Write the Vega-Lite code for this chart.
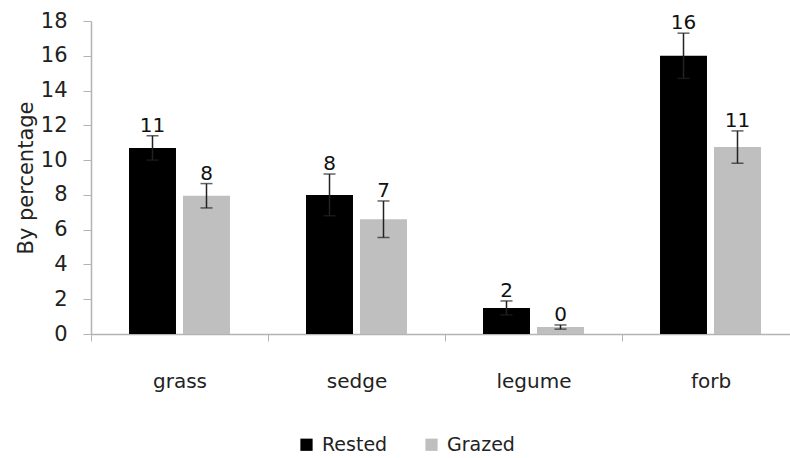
{
  "$schema": "https://vega.github.io/schema/vega-lite/v6.json",
  "autosize": "none",
  "width": 708,
  "height": 313,
  "padding": {"left": 91, "top": 21, "right": 0, "bottom": 124},
  "background": "white",
  "config": {
    "font": "DejaVu Sans",
    "view": {"stroke": null},
    "axis": {"grid": false, "domainColor": "#b3b3b3", "tickColor": "#b3b3b3", "labelColor": "#222", "titleColor": "#222", "labelFont": "DejaVu Sans", "titleFont": "DejaVu Sans", "titleFontWeight": "normal", "labelOverlap": false},
    "axisY": {"values": [0, 2, 4, 6, 8, 10, 12, 14, 16, 18], "titleFontSize": 21, "titlePadding": 4, "labelFontSize": 21, "tickSize": 8, "labelPadding": 16, "domainWidth": 1.5}
  },
  "data": {
    "values": [
      {"type": "grass", "group": "Rested", "value": 10.7, "err": 0.7, "label": "11"},
      {"type": "grass", "group": "Grazed", "value": 7.95, "err": 0.7, "label": "8"},
      {"type": "sedge", "group": "Rested", "value": 8.0, "err": 1.2, "label": "8"},
      {"type": "sedge", "group": "Grazed", "value": 6.6, "err": 1.05, "label": "7"},
      {"type": "legume", "group": "Rested", "value": 1.5, "err": 0.4, "label": "2"},
      {"type": "legume", "group": "Grazed", "value": 0.4, "err": 0.12, "label": "0"},
      {"type": "forb", "group": "Rested", "value": 16.0, "err": 1.3, "label": "16"},
      {"type": "forb", "group": "Grazed", "value": 10.75, "err": 0.93, "label": "11"}
    ]
  },
  "transform": [
    {"calculate": "datum.value + datum.err", "as": "hi"},
    {"calculate": "datum.value - datum.err", "as": "lo"}
  ],
  "encoding": {
    "x": {
      "field": "type", "type": "nominal", "sort": ["grass", "sedge", "legume", "forb"],
      "scale": {"paddingInner": 0, "paddingOuter": 0},
      "axis": {"title": null, "labelAngle": 0, "labelFontSize": 20, "tickBand": "extent", "tickSize": 7, "labelBaseline": "alphabetic", "labelPadding": 46, "domainWidth": 1.5}
    },
    "xOffset": {
      "field": "group", "type": "nominal", "sort": ["Rested", "Grazed"],
      "scale": {"paddingInner": 0.13, "paddingOuter": 0.704}
    }
  },
  "layer": [
    {
      "mark": {"type": "bar"},
      "encoding": {
        "y": {
          "field": "value", "type": "quantitative",
          "scale": {"domain": [0, 18], "nice": false},
          "title": "By percentage"
        },
        "color": {
          "field": "group", "type": "nominal", "sort": ["Rested", "Grazed"],
          "scale": {"domain": ["Rested", "Grazed"], "range": ["#000000", "#bfbfbf"]},
          "legend": {
            "title": null, "orient": "none", "direction": "horizontal",
            "legendX": 206, "legendY": 414,
            "symbolType": "square", "symbolSize": 150, "symbolStrokeWidth": 0,
            "labelFont": "DejaVu Sans", "labelFontSize": 19, "labelColor": "#222", "labelOffset": 6, "columnPadding": 34
          }
        }
      }
    },
    {
      "mark": {"type": "rule", "color": "#222", "strokeWidth": 1.5},
      "encoding": {
        "y": {"field": "lo", "type": "quantitative", "title": "By percentage"},
        "y2": {"field": "hi"}
      }
    },
    {
      "mark": {"type": "tick", "color": "#222", "size": 12, "thickness": 1.5},
      "encoding": {"y": {"field": "hi", "type": "quantitative", "title": "By percentage"}}
    },
    {
      "mark": {"type": "tick", "color": "#222", "size": 12, "thickness": 1.5},
      "encoding": {"y": {"field": "lo", "type": "quantitative", "title": "By percentage"}}
    },
    {
      "mark": {"type": "text", "baseline": "alphabetic", "dy": -4, "fontSize": 20, "color": "#111"},
      "encoding": {
        "y": {"field": "hi", "type": "quantitative", "title": "By percentage"},
        "text": {"field": "label"}
      }
    }
  ]
}
